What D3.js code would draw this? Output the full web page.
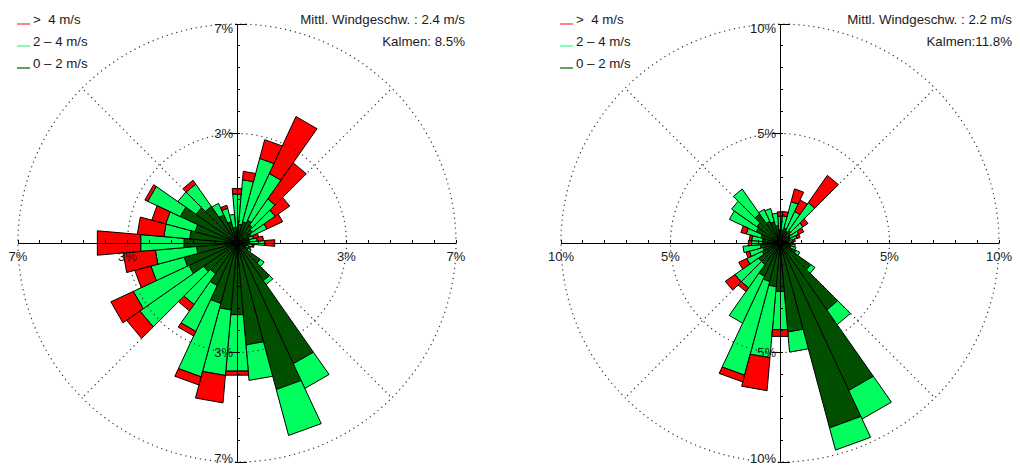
<!DOCTYPE html>
<html><head><meta charset="utf-8">
<script src="https://cdn.jsdelivr.net/npm/d3@7"></script>
<style>
body{margin:0;background:#fff}
svg{display:block}
text{font-family:"Liberation Sans",Arial,Helvetica,sans-serif;fill:#1a1a1a;white-space:pre}
</style>
</head><body>
<svg id="chart" width="1020" height="467"></svg>
<script>
// ---------- data ----------
const directions = d3.range(0, 360, 10);           // degrees, clockwise from N
const speedClasses = ["0 – 2 m/s", "2 – 4 m/s", ">  4 m/s"];
const classColors = ["#005000", "#00ff5e", "#ff0000"];
const legendColors = ["#3a8a3a", "#66ff99", "#ff6666"];

// left station (% frequency per class)
const leftLow  = [0.5,0.6,0.7,0.8,0.7,0.6,0.5,0.4,0.4,0.4,0.35,0.3,0.4,0.91,1.47,4.26,4.85,3.27,2.30,2.15,2.0,1.5,1.2,1.3,1.7,1.75,1.3,1.7,1.52,1.39,2.0,1.6,1.43,1.0,0.7,0.5];
const leftMid  = [1.07,1.43,2.10,1.65,1.02,0.89,0.56,0.15,0.25,0.49,0.15,0.10,0.10,0.15,0.15,0.87,1.52,1.14,1.81,2.10,2.43,1.62,1.20,2.49,1.96,1.10,1.32,1.39,0.83,0.97,1.15,0.71,0.87,0.40,0.45,0.42];
const leftHigh = [0.18,0.27,0.62,2.01,1.41,0.57,0.55,0.17,0.20,0.32,0.05,0.05,0,0,0,0,0,0,0.13,0.88,0.27,0.16,0.25,0.52,0.79,0.53,1.03,1.39,0.85,0.46,0.10,0,0.15,0,0.10,0];
const leftTicks = ["7%", "3%"];
const leftInfo = ["Mittl. Windgeschw. : 2.4 m/s", "Kalmen: 8.5%"];

// right station
const rightLow  = [0.6,0.6,0.7,0.6,0.7,0.6,0.5,0.45,0.4,0.4,0.5,0.5,0.8,1.72,3.73,7.43,8.74,4.08,2.22,2.0,1.82,1.68,1.2,1.2,0.9,0.8,0.9,0.8,0.8,0.9,1.2,1.3,1.62,1.1,1.0,0.8];
const rightMid  = [0.63,0.65,1.26,0.99,1.55,0.69,0.44,0.35,0.2,0.15,0.2,0.25,0.2,0.23,0.82,1.44,1.05,0.92,1.75,3.26,4.43,2.36,1.30,1.31,0.78,0.65,0.80,0.50,0.50,0.70,1.35,1.40,1.39,0.60,0.63,0.57];
const rightHigh = [0.20,0.20,0.60,0.58,1.52,0.27,0.26,0.15,0.1,0.05,0,0,0,0,0,0,0,0,0.31,1.51,0.32,0,0.21,0.54,0.40,0.16,0,0.15,0.11,0.25,0,0,0,0,0,0];
const rightTicks = ["10%", "5%"];
const rightInfo = ["Mittl. Windgeschw. : 2.2 m/s", "Kalmen:11.8%"];

const charts = [
  {cx: 237, cy: 243, max: 7,  low: leftLow,  mid: leftMid,  high: leftHigh,  ticks: leftTicks,  info: leftInfo,  legendX: 17,  infoX: 465},
  {cx: 780, cy: 243, max: 10, low: rightLow, mid: rightMid, high: rightHigh, ticks: rightTicks, info: rightInfo, legendX: 560, infoX: 1012}
];

// ---------- drawing ----------
const svg = d3.select("#chart");
const R = 219;
const halfW = Math.PI / 36;
const radial = d3.lineRadial().angle(d => d[0]).radius(d => d[1]).curve(d3.curveLinearClosed);

charts.forEach(cfg => {
  const rScale = d3.scaleLinear().domain([0, cfg.max]).range([0, R]);
  const g = svg.append("g").attr("transform", `translate(${cfg.cx},${cfg.cy})`);

  const rows = directions.map((d, i) => ({dir: d, low: cfg.low[i], mid: cfg.mid[i], high: cfg.high[i]}));
  const series = d3.stack().keys(["low", "mid", "high"])(rows);

  series.forEach((layer, k) => {
    g.append("g").selectAll("path")
      .data(layer.filter(s => s[1] - s[0] > 0))
      .join("path")
      .attr("d", s => {
        const a = s.data.dir * Math.PI / 180;
        const r0 = rScale(s[0]), r1 = rScale(s[1]);
        return radial([[a - halfW, r0], [a + halfW, r0], [a + halfW, r1], [a - halfW, r1]]);
      })
      .attr("fill", classColors[k])
      .attr("stroke", "#000")
      .attr("stroke-width", 1)
      .attr("stroke-linejoin", "miter");
  });

  // grid
  const grid = g.append("g").attr("fill", "none").attr("stroke", "#333")
    .attr("stroke-width", 1.2).attr("stroke-dasharray", "1.2,3.8");
  [cfg.max / 2, cfg.max].forEach(v => grid.append("circle").attr("r", rScale(v)));
  [45, 135, 225, 315].forEach(deg => {
    const a = deg * Math.PI / 180;
    grid.append("line").attr("x1", 0).attr("y1", 0)
      .attr("x2", Math.sin(a) * rScale(cfg.max)).attr("y2", -Math.cos(a) * rScale(cfg.max));
  });

  // axes
  const ax = g.append("g").attr("stroke", "#000").attr("stroke-width", 1).attr("shape-rendering", "crispEdges");
  ax.append("line").attr("x1", -R).attr("x2", R).attr("y1", 0).attr("y2", 0);
  ax.append("line").attr("x1", 0).attr("x2", 0).attr("y1", -R).attr("y2", R);
  d3.range(1, 11).forEach(i => {
    const t = rScale(i * cfg.max / 10);
    [-1, 1].forEach(s => {
      ax.append("line").attr("x1", 0).attr("x2", 3).attr("y1", s * t).attr("y2", s * t);
      ax.append("line").attr("x1", s * t).attr("x2", s * t).attr("y1", 0).attr("y2", -3);
    });
  });
  const mid = rScale(cfg.max / 2);
  [-1, 1].forEach(s => {
    ax.append("line").attr("x1", -8).attr("x2", 0).attr("y1", s * mid).attr("y2", s * mid);
    ax.append("line").attr("x1", -2).attr("x2", 10).attr("y1", s * R).attr("y2", s * R);
  });

  // tick labels
  const lab = g.append("g").attr("font-size", 13);
  lab.append("text").attr("x", -4).attr("y", -R + 4).attr("dy", "0.35em").attr("text-anchor", "end").text(cfg.ticks[0]);
  lab.append("text").attr("x", -4).attr("y", -mid).attr("dy", "0.35em").attr("text-anchor", "end").text(cfg.ticks[1]);
  lab.append("text").attr("x", -4).attr("y", mid).attr("dy", "0.35em").attr("text-anchor", "end").text(cfg.ticks[1]);
  lab.append("text").attr("x", -4).attr("y", R - 4).attr("dy", "0.35em").attr("text-anchor", "end").text(cfg.ticks[0]);
  [-1, 1].forEach(s => {
    lab.append("text").attr("x", s * R).attr("y", 13).attr("dy", "0.35em").attr("text-anchor", "middle").text(cfg.ticks[0]);
    lab.append("text").attr("x", s * mid).attr("y", 13).attr("dy", "0.35em").attr("text-anchor", "middle").text(cfg.ticks[1]);
  });

  // legend
  const leg = svg.append("g").attr("font-size", 13.3);
  [2, 1, 0].forEach((k, j) => {
    const y = 24 + j * 22;
    leg.append("line").attr("x1", cfg.legendX).attr("x2", cfg.legendX + 13)
      .attr("y1", y).attr("y2", y).attr("stroke", legendColors[k]).attr("stroke-width", 1.6);
    leg.append("text").attr("x", cfg.legendX + 16).attr("y", y).text(speedClasses[k]);
  });

  // info
  const inf = svg.append("g").attr("font-size", 13.3).attr("text-anchor", "end");
  inf.append("text").attr("x", cfg.infoX).attr("y", 24).text(cfg.info[0]);
  inf.append("text").attr("x", cfg.infoX).attr("y", 46).text(cfg.info[1]);
});
</script>
</body></html>
